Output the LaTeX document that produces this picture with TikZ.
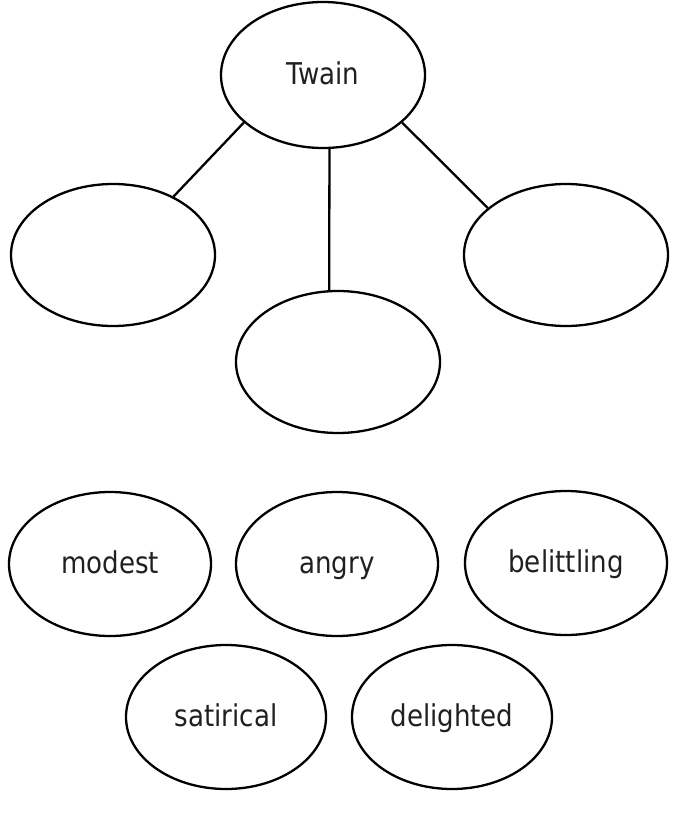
\documentclass[tikz,border=0pt]{standalone}
\usepackage{fontspec}
\setmainfont[FakeStretch=0.87]{DejaVu Sans}
\usetikzlibrary{shapes.geometric}
\usetikzlibrary{positioning}
\definecolor{inkgray}{HTML}{231F20}

\begin{document}
\begin{tikzpicture}
[every node/.style={font=\fontsize{30}{36}\selectfont,text=inkgray},x=1pt,y=-1pt,
  link/.style = {-,line width=2.3pt},
  oval/.style = {ellipse,draw,line width=2.3pt,inner sep=0pt,
        text height=22pt,text depth=4pt,
        minimum width=204pt,minimum height=142pt}]
\useasboundingbox (0,0) rectangle (678,817);

\node[oval,minimum height=146pt] (twain) at (323,75) {Twain};
   \node[oval] (left) at (113,255) {};
   \node[oval] (mid) at (338,362) {};
   \node[oval] (right) at (566,255) {};

   \node[oval,minimum width=202pt,minimum height=144pt] (modest) at (110,564) {modest};
   \node[oval,minimum width=202pt,minimum height=144pt] (angry) at (337,564) {angry};
   \node[oval,minimum width=202pt,minimum height=144pt] (belittling) at (566,563) {belittling};
   \node[oval,minimum width=200pt,minimum height=144pt] (satirical) at (226,717) {satirical};
   \node[oval,minimum width=200pt,minimum height=144pt] (delighted) at (452,717) {delighted};

   \draw[link] (twain.211) -- (left.44);
   \draw[link] (twain.275) -- (mid.97);
   \draw[link] (twain.329) -- (right.149);
\end{tikzpicture}
\end{document}
